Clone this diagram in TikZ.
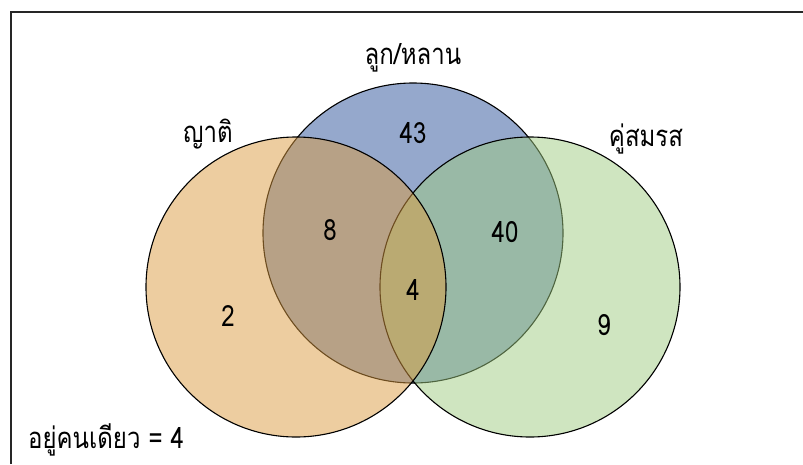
\documentclass[tikz,border=0pt]{standalone}
\usepackage{fontspec}
\newfontfamily\thaifont[Script=Thai]{Loma}
\definecolor{corange}{RGB}{219,155,65}
\definecolor{cblue}{RGB}{43,81,153}
\definecolor{cgreen}{RGB}{159,203,129}
\newcommand{\tall}[1]{\scalebox{1}[1.22]{#1}}
\tikzset{
  setcircle/.style={draw=black, line width=1.1pt, fill opacity=0.5},
  lbl/.style={font=\thaifont\fontsize{24}{28}\selectfont, text=black, inner sep=0pt},
}
\begin{document}
\begin{tikzpicture}[x=1pt,y=-1pt]
\useasboundingbox (0,0) rectangle (803,464);
\draw[line width=2pt, black!85] (11,464) -- (11,12) -- (803,12);
\path[setcircle, fill=cblue] (413,233) circle[radius=150];
\path[setcircle, fill=cgreen] (530,287) circle[radius=150];
\path[setcircle, fill=corange] (296,287) circle[radius=150];
\node[lbl] (tkids) at (413,58) {\tall{ลูก/หลาน}};
\node[lbl] (trel) at (208,134) {\tall{ญาติ}};
\node[lbl] (tspouse) at (646,139) {\tall{คู่สมรส}};
\node[lbl] (n43) at (413,133) {\tall{43}};
\node[lbl] (n8) at (330,230) {\tall{8}};
\node[lbl] (n40) at (505,232) {\tall{40}};
\node[lbl] (n4) at (413,290) {\tall{4}};
\node[lbl] (n2) at (228,316) {\tall{2}};
\node[lbl] (n9) at (604,325) {\tall{9}};
\node[lbl, anchor=west] (alone) at (28,440) {\tall{อยู่คนเดียว = 4}};
\end{tikzpicture}
\end{document}
